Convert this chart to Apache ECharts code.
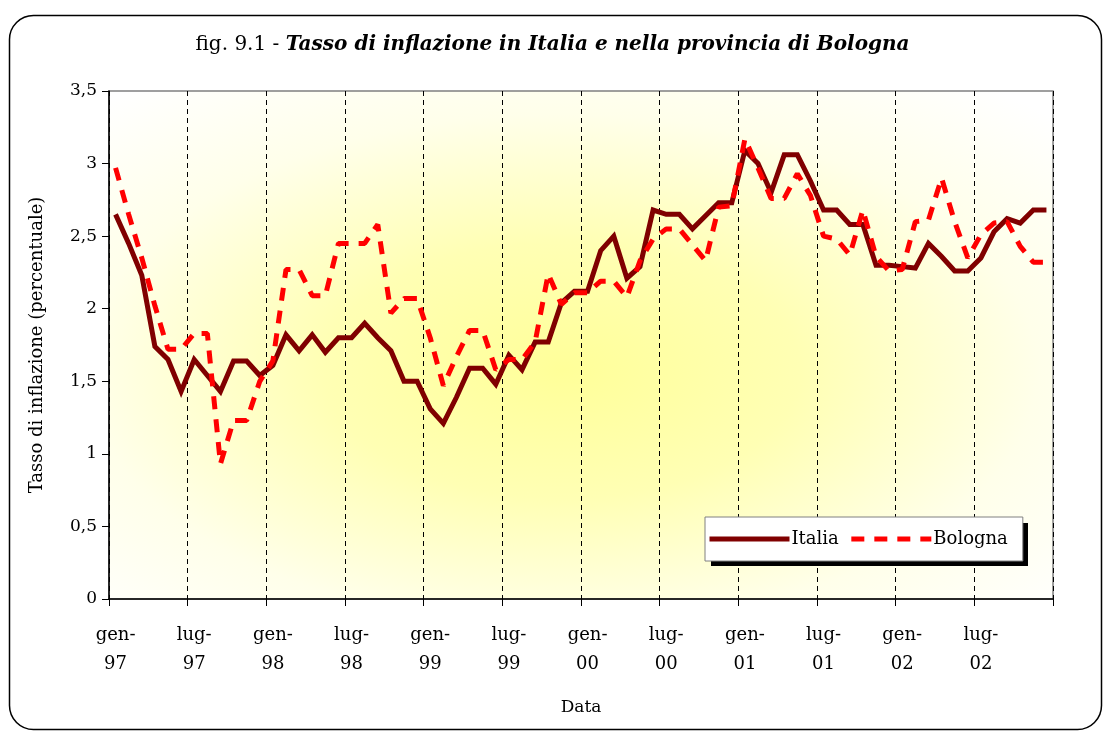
<!DOCTYPE html>
<html>
<head>
<meta charset="utf-8">
<script src="https://cdn.jsdelivr.net/npm/echarts@6/dist/echarts.min.js"></script>
<style>
html,body{margin:0;padding:0;background:#fff;}
#chart{width:1105px;height:733px;}
</style>
</head>
<body>
<div id="chart"></div>
<script>
var months = ['gen','feb','mar','apr','mag','giu','lug','ago','set','ott','nov','dic'];
var years = ['97','98','99','00','01','02'];
var categories = [];
years.forEach(function(y){ months.forEach(function(m){ categories.push(m + '-' + y); }); });

var italia = [
  2.65,2.45,2.23,1.74,1.65,1.43,1.65,1.54,1.43,1.64,1.64,1.54,
  1.61,1.82,1.71,1.82,1.70,1.80,1.80,1.90,1.80,1.71,1.50,1.50,
  1.31,1.21,1.39,1.59,1.59,1.48,1.68,1.58,1.77,1.77,2.04,2.12,
  2.12,2.40,2.50,2.21,2.29,2.68,2.65,2.65,2.55,2.64,2.73,2.73,
  3.09,3.00,2.80,3.06,3.06,2.88,2.68,2.68,2.58,2.58,2.30,2.30,
  2.29,2.28,2.45,2.36,2.26,2.26,2.35,2.53,2.62,2.59,2.68,2.68
];
var bologna = [
  2.97,2.65,2.35,2.02,1.72,1.72,1.83,1.83,0.93,1.23,1.23,1.50,
  1.64,2.27,2.27,2.09,2.09,2.45,2.45,2.45,2.58,1.97,2.07,2.07,
  1.80,1.47,1.67,1.85,1.85,1.58,1.65,1.65,1.77,2.24,2.03,2.11,
  2.11,2.19,2.19,2.08,2.33,2.48,2.55,2.55,2.44,2.33,2.70,2.71,
  3.17,2.97,2.76,2.76,2.93,2.78,2.50,2.48,2.37,2.68,2.36,2.26,
  2.27,2.60,2.61,2.90,2.60,2.35,2.51,2.59,2.60,2.43,2.32,2.32
];

var serif = '"DejaVu Serif", serif';
var chart = echarts.init(document.getElementById('chart'));
var gridL = 109, gridT = 91, gridR = 52, gridB = 134;
var pw = 1105 - gridL - gridR, ph = 733 - gridT - gridB;
var bolognaDash = [13, 10];
var legendBox = {x: 705, y: 517, w: 317, h: 43};

chart.setOption({
  animation: false,
  backgroundColor: '#ffffff',
  title: {
    left: 'center',
    top: 30,
    text: '{a|fig. 9.1 - }{b|Tasso di inflazione in Italia e nella provincia di Bologna}',
    textStyle: {
      fontWeight: 'normal',
      rich: {
        a: {fontFamily: serif, fontSize: 20, fontWeight: 'normal', color: '#000'},
        b: {fontFamily: serif, fontSize: 20, fontWeight: 'bold', fontStyle: 'italic', color: '#000'}
      }
    }
  },
  graphic: [
    {
      type: 'rect', z: -10, silent: true,
      x: gridL, y: gridT, scaleX: pw / ph, scaleY: 1,
      shape: {x: 0, y: 0, width: ph, height: ph},
      style: {
        fill: new echarts.graphic.RadialGradient(0.48, 0.55, 0.72, [
          {offset: 0, color: '#FFFF99'},
          {offset: 0.35, color: '#FFFFB4'},
          {offset: 0.7, color: '#FFFFEA'},
          {offset: 1, color: '#FFFFFF'}
        ])
      }
    },
    {
      type: 'rect', z: 5, silent: true,
      shape: {x: legendBox.x + 6, y: legendBox.y + 6, width: legendBox.w, height: legendBox.h},
      style: {fill: '#000'}
    },
    {
      type: 'rect', z: 100, silent: true,
      shape: {x: 9.5, y: 15.5, width: 1092, height: 714, r: 24},
      style: {fill: null, stroke: '#000', lineWidth: 1.5}
    }
  ],
  legend: {
    data: [
      {name: 'Italia', lineStyle: {color: '#800000', width: 5, type: 'solid'}},
      {name: 'Bologna', lineStyle: {color: '#FF0000', width: 5, type: bolognaDash}}
    ],
    left: legendBox.x, top: legendBox.y,
    z: 10,
    orient: 'horizontal',
    itemWidth: 80, itemHeight: 14, itemGap: 10,
    padding: [13, 15, 13, 2],
    backgroundColor: '#ffffff',
    borderColor: '#808080', borderWidth: 1,
    itemStyle: {opacity: 0},
    textStyle: {fontFamily: serif, fontSize: 18, color: '#000', padding: [0,0,0,-3]}
  },
  grid: {
    left: gridL, top: gridT, right: gridR, bottom: gridB,
    show: true, borderColor: '#808080', borderWidth: 1.5, backgroundColor: 'transparent'
  },
  xAxis: {
    type: 'category',
    data: categories,
    boundaryGap: true,
    name: 'Data',
    nameLocation: 'middle',
    nameGap: 100,
    nameTextStyle: {fontFamily: serif, fontSize: 17, color: '#000'},
    axisLine: {lineStyle: {color: '#000', width: 1.5}},
    axisTick: {show: true, interval: 5, length: 7, lineStyle: {color: '#000'}},
    axisLabel: {
      interval: 5, margin: 22, color: '#000',
      fontFamily: serif, fontSize: 18, lineHeight: 29,
      formatter: function(v){ return v.replace('-', '-\n'); }
    },
    splitLine: {show: true, interval: 5, lineStyle: {color: '#000', type: [5, 4], width: 1}}
  },
  yAxis: {
    type: 'value',
    min: 0, max: 3.5, interval: 0.5,
    name: 'Tasso di inflazione (percentuale)',
    nameLocation: 'middle',
    nameGap: 63,
    nameTextStyle: {fontFamily: serif, fontSize: 18, color: '#000'},
    axisLine: {show: true, lineStyle: {color: '#000', width: 1.5}},
    axisTick: {show: true, length: 7, lineStyle: {color: '#000'}},
    axisLabel: {
      margin: 12, color: '#000', fontFamily: serif, fontSize: 17,
      formatter: function(v){ return String(v).replace('.', ','); }
    },
    splitLine: {show: false}
  },
  series: [
    {
      name: 'Italia', type: 'line', data: italia,
      symbol: 'none', showSymbol: false,
      lineStyle: {color: '#800000', width: 5, join: 'miter'},
      itemStyle: {color: '#800000'},
      z: 3
    },
    {
      name: 'Bologna', type: 'line', data: bologna,
      symbol: 'none', showSymbol: false,
      lineStyle: {color: '#FF0000', width: 5, type: bolognaDash},
      itemStyle: {color: '#FF0000'},
      z: 4
    }
  ]
});
</script>
</body>
</html>
